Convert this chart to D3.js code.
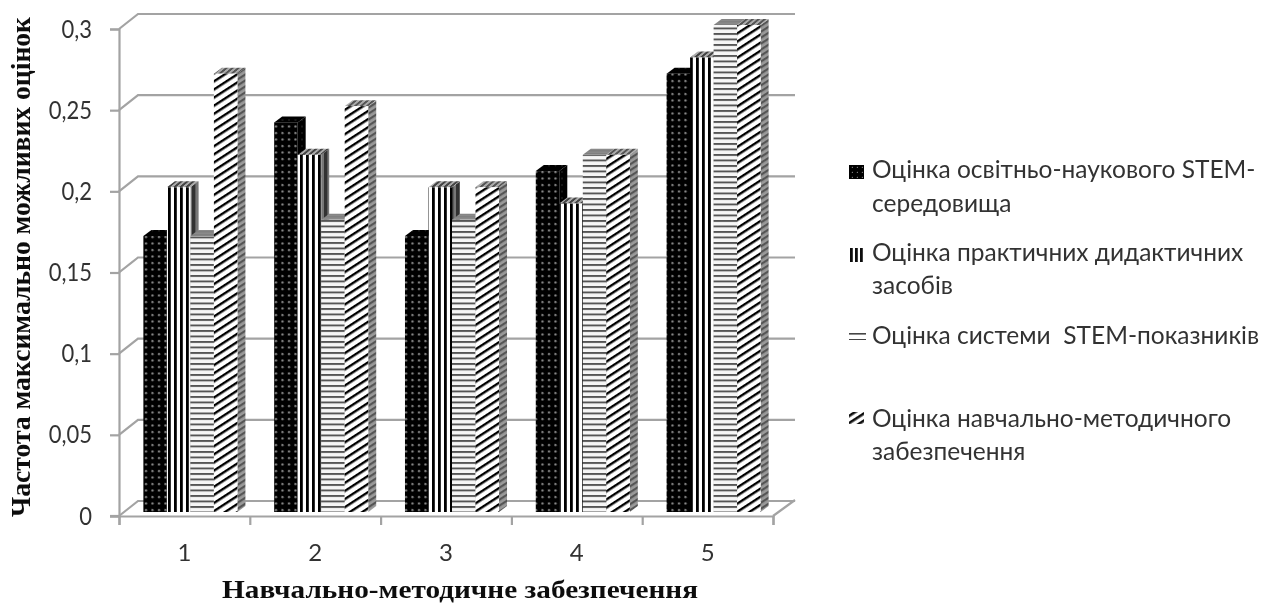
<!DOCTYPE html>
<html><head><meta charset="utf-8">
<script src="https://cdn.jsdelivr.net/npm/d3@7"></script>
<style>html,body{margin:0;background:#fff}svg{display:block}</style></head>
<body><svg id="c" width="1261" height="604"></svg>
<script>
const categories=["1","2","3","4","5"];
const seriesNames=["s1","s2","s3","s4"];
const s1=[0.17,0.24,0.17,0.21,0.27];
const s2=[0.20,0.22,0.20,0.19,0.28];
const s3=[0.17,0.18,0.18,0.22,0.30];
const s4=[0.27,0.25,0.20,0.22,0.30];
const series=[s1,s2,s3,s4];
const yTicks=[0,0.05,0.1,0.15,0.2,0.25,0.3];
const legendLines=[["Оцінка освітньо-наукового STEM-","середовища"],["Оцінка практичних дидактичних","засобів"],["Оцінка системи  STEM-показників"],["Оцінка навчально-методичного","забезпечення"]];
const yTitle="Частота максимально можливих оцінок";
const xTitle="Навчально-методичне забезпечення";

const svg=d3.select("#c");
const defs=svg.append("defs");
defs.append("filter").attr("id","soft").attr("x","-5%").attr("y","-5%").attr("width","110%").attr("height","110%").append("feGaussianBlur").attr("stdDeviation",0.55);
function pat(id,w,h,bg,draw,tf){const p=defs.append("pattern").attr("id",id).attr("patternUnits","userSpaceOnUse").attr("width",w).attr("height",h);if(tf)p.attr("patternTransform",tf);p.append("rect").attr("width",w).attr("height",h).attr("fill",bg);draw(p);}
const dots=(col,r)=>p=>{p.append("circle").attr("cx",3).attr("cy",3).attr("r",r).attr("fill",col);};
const vs=(fg,w,h)=>p=>p.append("rect").attr("width",w).attr("height",h).attr("fill",fg);
const hs=(fg,w,h)=>p=>p.append("rect").attr("width",h).attr("height",w).attr("fill",fg);
pat("p0",6.5,6.5,"#000",dots("#8c8c8c",1.15));
pat("p0s",6.5,6.5,"#000",dots("#262626",1));
pat("p0t",6.5,6.5,"#000",dots("#262626",1));
pat("p1",6,6,"#fff",vs("#000",2.8,6));
pat("p1s",6,6,"#777",vs("#333",3.4,6));
pat("p1t",6,6,"#aaa",vs("#444",3,6),"skewX(-50)");
pat("p2",5.5,5.5,"#f6f6f6",hs("#555",1.9,6));
pat("p2s",6,3,"#8a8a8a",hs("#808080",1.5,6));
pat("p2t",6,3,"#8a8a8a",hs("#808080",1.5,6));
pat("p3",6.8,8,"#fff",vs("#000",2.4,8),"rotate(57)");
pat("p3s",5,8,"#9a9a9a",vs("#555",2.2,8),"rotate(57)");
pat("p3t",6,6,"#aaa",vs("#555",3,6),"skewX(-50)");
pat("l0",5,5,"#000",p=>{p.append("rect").attr("x",1.8).attr("y",1.8).attr("width",1.2).attr("height",1.2).attr("fill","#777");});
pat("l1",5,6,"#fff",vs("#111",2.8,6));
pat("l2",17,6,"#fff",hs("#444",1.6,17),"translate(0,333)");
pat("l3",6,6,"#fff",vs("#111",2.6,6),"rotate(57)");

const root=svg.append("g").attr("filter","url(#soft)");
const y0=516, yTop=29, xL=119, xR=773, depthX=19, depthY=15;
const yAxisScale=d3.scaleLinear().domain([0,0.3]).range([y0,yTop]);
const x=d3.scaleBand().domain(categories).range([xL,xR]).paddingInner(0.281).paddingOuter(0.1405);
const xi=d3.scaleBand().domain(seriesNames).range([0,x.bandwidth()]);
const yBar=d3.scaleLinear().domain([0,0.3]).range([512,25]);
const wallColor="#a3a3a3";
const sansFont="Lato,'Open Sans',sans-serif";
const squeeze=0.88;

// back wall gridlines and depth connectors
yTicks.forEach(t=>{
  const yy=yAxisScale(t);
  root.append("path").attr("d",`M${xL},${yy}L${xL+depthX},${yy-depthY}H${xR+22}`).attr("fill","none").attr("stroke",wallColor).attr("stroke-width",2.2);
});
root.append("line").attr("x1",xR).attr("y1",y0).attr("x2",xR+22).attr("y2",y0-depthY-1).attr("stroke",wallColor).attr("stroke-width",2.2);

// axes
const gy=root.append("g").attr("transform",`translate(${xL},0)`).call(d3.axisLeft(yAxisScale).tickValues(yTicks).tickSize(9).tickPadding(18).tickFormat(d=>String(d).replace(".",",")));
const gx=root.append("g").attr("transform",`translate(0,${y0})`).call(d3.axisBottom(d3.scaleLinear().domain([0,5]).range([xL,xR])).tickValues([0,1,2,3,4,5]).tickSize(9).tickFormat(""));
[gy,gx].forEach(g=>{g.selectAll("path,line").attr("stroke",wallColor).attr("stroke-width",2.2);});
gy.selectAll("text").attr("font-family",sansFont).attr("font-size",25).attr("fill","#333")
  .each(function(){this.setAttribute("textLength",this.getComputedTextLength()*squeeze);this.setAttribute("lengthAdjust","spacingAndGlyphs");});
root.append("line").attr("x1",xL-9).attr("x2",xL).attr("y1",y0).attr("y2",y0).attr("stroke",wallColor).attr("stroke-width",2.2);
root.selectAll(".catlab").data(categories).join("text").attr("class","catlab")
  .attr("x",d=>x(d)+x.bandwidth()/2).attr("y",561).attr("text-anchor","middle")
  .attr("font-family",sansFont).attr("font-size",24).attr("fill","#333").text(d=>d);

// bars
const dx=8, dy=6, shift=6;
categories.forEach((c,ci)=>{
  seriesNames.forEach((s,si)=>{
    const v=series[si][ci], bx=x(c)+xi(s)+shift, w=xi.bandwidth(), top=yBar(v), bot=yBar(0);
    const g=root.append("g");
    g.append("path").attr("d",`M${bx+w},${bot}L${bx+w+dx},${bot-dy}V${top-dy}L${bx+w},${top}Z`).attr("fill",`url(#p${si}s)`);
    g.append("path").attr("d",`M${bx},${top}L${bx+dx},${top-dy}H${bx+w+dx}L${bx+w},${top}Z`).attr("fill",`url(#p${si}t)`);
    g.append("rect").attr("x",bx).attr("y",top).attr("width",w).attr("height",bot-top).attr("fill",`url(#p${si})`);
  });
});

// titles
root.append("text").attr("transform","translate(30,267) rotate(-90)").attr("text-anchor","middle")
  .attr("textLength",500).attr("lengthAdjust","spacingAndGlyphs")
  .attr("font-family","'Liberation Serif',serif").attr("font-weight","bold").attr("font-size",27).attr("fill","#111").text(yTitle);
root.append("text").attr("x",460).attr("y",598).attr("text-anchor","middle")
  .attr("textLength",476).attr("lengthAdjust","spacingAndGlyphs")
  .attr("font-family","'Liberation Serif',serif").attr("font-weight","bold").attr("font-size",26).attr("fill","#111").text(xTitle);

// legend
const legendY=[[178,212],[261,294],[344],[427,460]];
const swY=[165,248,333,412];
const swH=[14,14,7,12];
legendLines.forEach((ls,i)=>{
  root.append("rect").attr("x",849).attr("y",swY[i]).attr("width",i===2?17:15).attr("height",swH[i]).attr("fill",`url(#l${i})`);
  ls.forEach((t,j)=>root.append("text").attr("x",872).attr("y",legendY[i][j]).style("white-space","pre")
    .attr("font-family",sansFont).attr("font-size",24.5).attr("fill","#333").text(t));
});
</script></body></html>
